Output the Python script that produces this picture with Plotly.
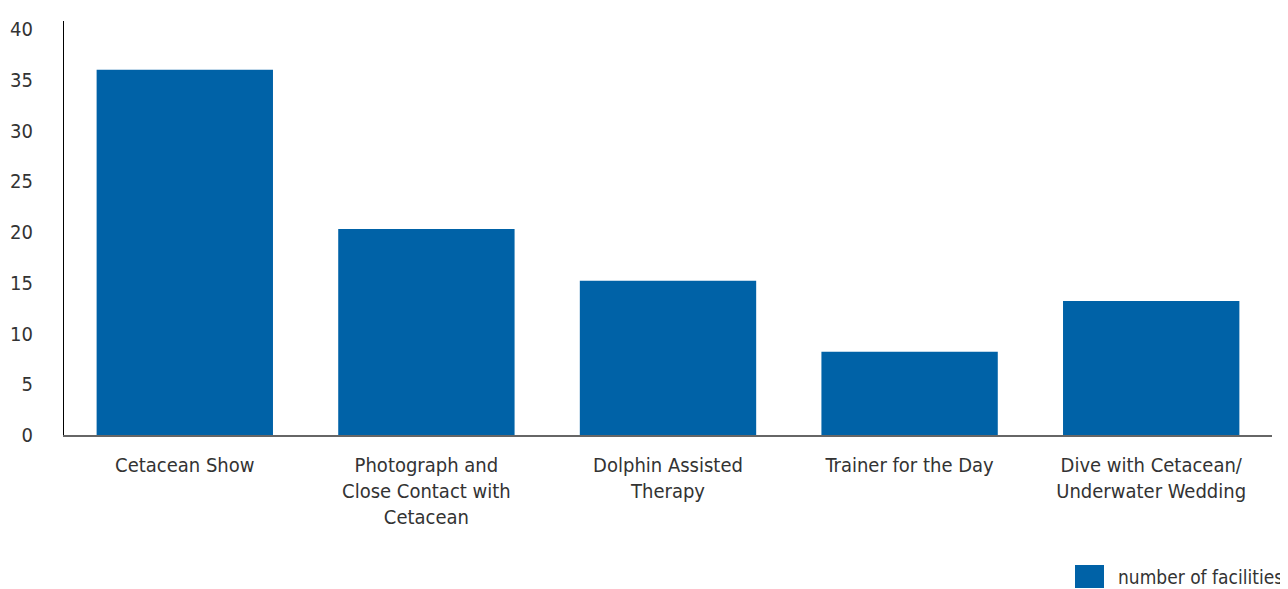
import plotly.graph_objects as go

categories = [
    "Cetacean Show",
    "Photograph and<br>Close Contact with<br>Cetacean",
    "Dolphin Assisted<br>Therapy",
    "Trainer for the Day",
    "Dive with Cetacean/<br>Underwater Wedding",
]
values = [36, 20.3, 15.2, 8.2, 13.2]
series_name = "number of facilities"
y_ticks = [0, 5, 10, 15, 20, 25, 30, 35, 40]

BAR = "#0062a7"
FONT = "DejaVu Sans Condensed, Roboto, sans-serif"
TXT = "#333333"

# page has an 8px body margin; figure drawn 8px smaller
W, H = 1280, 581
L, T, R, B = 56, 13, 16, 154
PW, PH = W - L - R, H - T - B

fig = go.Figure()
fig.add_trace(go.Bar(x=categories, y=values, name=series_name,
                     marker=dict(color=BAR, line=dict(width=0)),
                     showlegend=False))

fig.update_layout(
    width=W, height=H,
    margin=dict(l=L, r=R, t=T, b=B),
    paper_bgcolor="white", plot_bgcolor="white",
    bargap=0.27,
    font=dict(family=FONT, size=20, color=TXT),
    xaxis=dict(showgrid=False, showline=True, linecolor="#666666", linewidth=2,
               automargin=False,
               ticks="", ticklabelstandoff=11, tickfont=dict(size=20, color=TXT)),
    yaxis=dict(range=[0, 40.8], tickvals=y_ticks, showgrid=False, zeroline=False,
               automargin=False,
               showline=True, linecolor="#000000", linewidth=1,
               ticks="", ticklabelstandoff=26, tickfont=dict(size=20, color=TXT)),
)

def px_x(x):
    return (x - 8 - L) / PW

def px_y(y):
    return (H - B - (y - 8)) / PH

fig.add_shape(type="rect", xref="paper", yref="paper",
              x0=px_x(1075), x1=px_x(1104), y0=px_y(588), y1=px_y(565),
              fillcolor=BAR, line=dict(width=0))
fig.add_annotation(xref="paper", yref="paper", x=px_x(1116), y=px_y(577),
                   text=series_name, showarrow=False,
                   xanchor="left", yanchor="middle",
                   font=dict(size=19, color=TXT, family=FONT))

fig.write_html("out.html")
